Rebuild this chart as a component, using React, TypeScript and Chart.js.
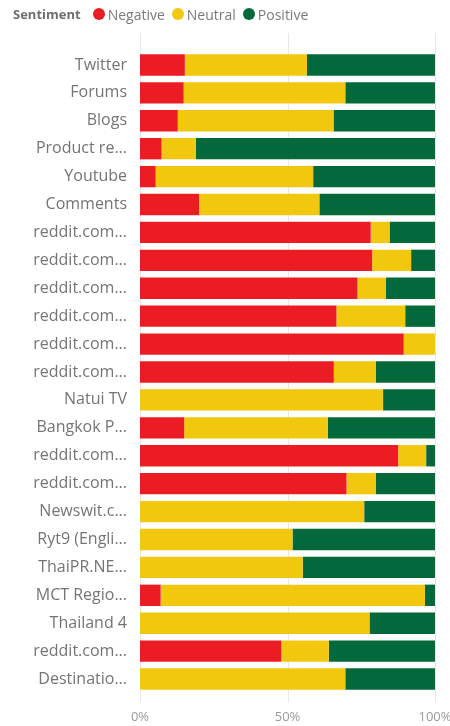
import React, { useEffect, useRef } from "react";
import { Chart, registerables } from "chart.js";

Chart.register(...registerables);

const categories = [
  "Twitter", "Forums", "Blogs", "Product re...", "Youtube", "Comments",
  "reddit.com...", "reddit.com...", "reddit.com...", "reddit.com...", "reddit.com...", "reddit.com...",
  "Natui TV", "Bangkok P...", "reddit.com...", "reddit.com...", "Newswit.c...", "Ryt9 (Engli...",
  "ThaiPR.NE...", "MCT Regio...", "Thailand 4", "reddit.com...", "Destinatio...",
];

const negative = [15.2, 14.8, 12.8, 7.3, 5.3, 20.0, 78.2, 78.7, 73.7, 66.6, 89.4, 65.7, 0, 15.0, 87.5, 70.0, 0, 0, 0, 7.0, 0, 47.9, 0];
const neutral = [41.4, 54.8, 52.8, 11.6, 53.4, 40.8, 6.4, 13.2, 9.7, 23.3, 10.6, 14.3, 82.4, 48.7, 9.5, 10.0, 76.0, 51.7, 55.2, 89.6, 77.8, 16.1, 69.6];
const positive = [43.4, 30.4, 34.4, 81.1, 41.3, 39.2, 15.4, 8.1, 16.6, 10.1, 0, 20.0, 17.6, 36.3, 3.0, 20.0, 24.0, 48.3, 44.8, 3.4, 22.2, 36.0, 30.4];

const seriesNames = ["Negative", "Neutral", "Positive"];
const seriesColors = ["#EC1C24", "#F2C80F", "#03693A"];
const xTicks = [0, 50, 100];
const legendTitle = "Sentiment";

const FONT = "'Open Sans', 'Noto Sans', sans-serif";

const gridPlugin = {
  id: "extGrid",
  beforeDatasetsDraw(chart: any) {
    const { ctx, scales } = chart;
    const x = scales.x;
    ctx.save();
    ctx.strokeStyle = "#E6E6E6";
    ctx.lineWidth = 1;
    xTicks.forEach((v) => {
      const px = Math.round(x.getPixelForValue(v)) + 0.5;
      ctx.beginPath();
      ctx.moveTo(px, 33);
      ctx.lineTo(px, 702);
      ctx.stroke();
    });
    ctx.restore();
  },
};

export default function App() {
  const ref = useRef<HTMLCanvasElement | null>(null);
  useEffect(() => {
    if (!ref.current) return;
    const data = [negative, neutral, positive];
    const chart = new Chart(ref.current, {
      type: "bar",
      data: {
        labels: categories,
        datasets: seriesNames.map((name, i) => ({
          label: name,
          data: data[i],
          backgroundColor: seriesColors[i],
          borderWidth: 0,
          barPercentage: 0.765,
          categoryPercentage: 1,
        })),
      },
      plugins: [gridPlugin],
      options: {
        indexAxis: "y",
        animation: false,
        responsive: false,
        maintainAspectRatio: false,
        layout: { padding: { top: 51, right: 15, left: 0, bottom: 0 } },
        plugins: {
          legend: { display: false },
          tooltip: { enabled: false },
        },
        scales: {
          x: {
            stacked: true,
            min: 0,
            max: 100,
            afterFit: (s: any) => { s.height = 33; s.paddingLeft = 0; s.paddingRight = 0; },
            afterBuildTicks: (s: any) => { s.ticks = xTicks.map((v) => ({ value: v })); },
            grid: { display: false, drawTicks: false },
            border: { display: false },
            ticks: {
              padding: 16,
              color: "#9A9A9A",
              font: { family: FONT, size: 13 },
              callback: (v: any) => v + "%",
              maxRotation: 0,
            },
          },
          y: {
            stacked: true,
            afterFit: (s: any) => { s.width = 140; s.paddingTop = 0; s.paddingBottom = 0; },
            grid: { display: false, drawTicks: false },
            border: { display: false },
            ticks: {
              padding: 13,
              color: "#747474",
              autoSkip: false,
              font: { family: FONT, size: 16 },
            },
          },
        },
      },
    });
    return () => chart.destroy();
  }, []);

  return (
    <div style={{ position: "absolute", left: 0, top: 0, width: 450, height: 726, background: "#fff", overflow: "hidden" }}>
      <canvas ref={ref} width={450} height={726} style={{ position: "absolute", left: 0, top: 0 }} />
      <div
        style={{
          position: "absolute", left: 13, top: 4, height: 20, display: "flex", alignItems: "center",
          fontFamily: FONT, fontSize: 14, color: "#7A7A7A", whiteSpace: "nowrap",
        }}
      >
        <span style={{ fontWeight: 700, fontSize: 13, marginRight: 12, color: "#6E6E6E" }}>{legendTitle}</span>
        {seriesNames.map((n, i) => (
          <span key={n} style={{ display: "inline-flex", alignItems: "center", marginRight: 7 }}>
            <span style={{ width: 12, height: 12, borderRadius: 6, background: seriesColors[i], display: "inline-block", marginRight: 3 }} />
            {n}
          </span>
        ))}
      </div>
    </div>
  );
}
